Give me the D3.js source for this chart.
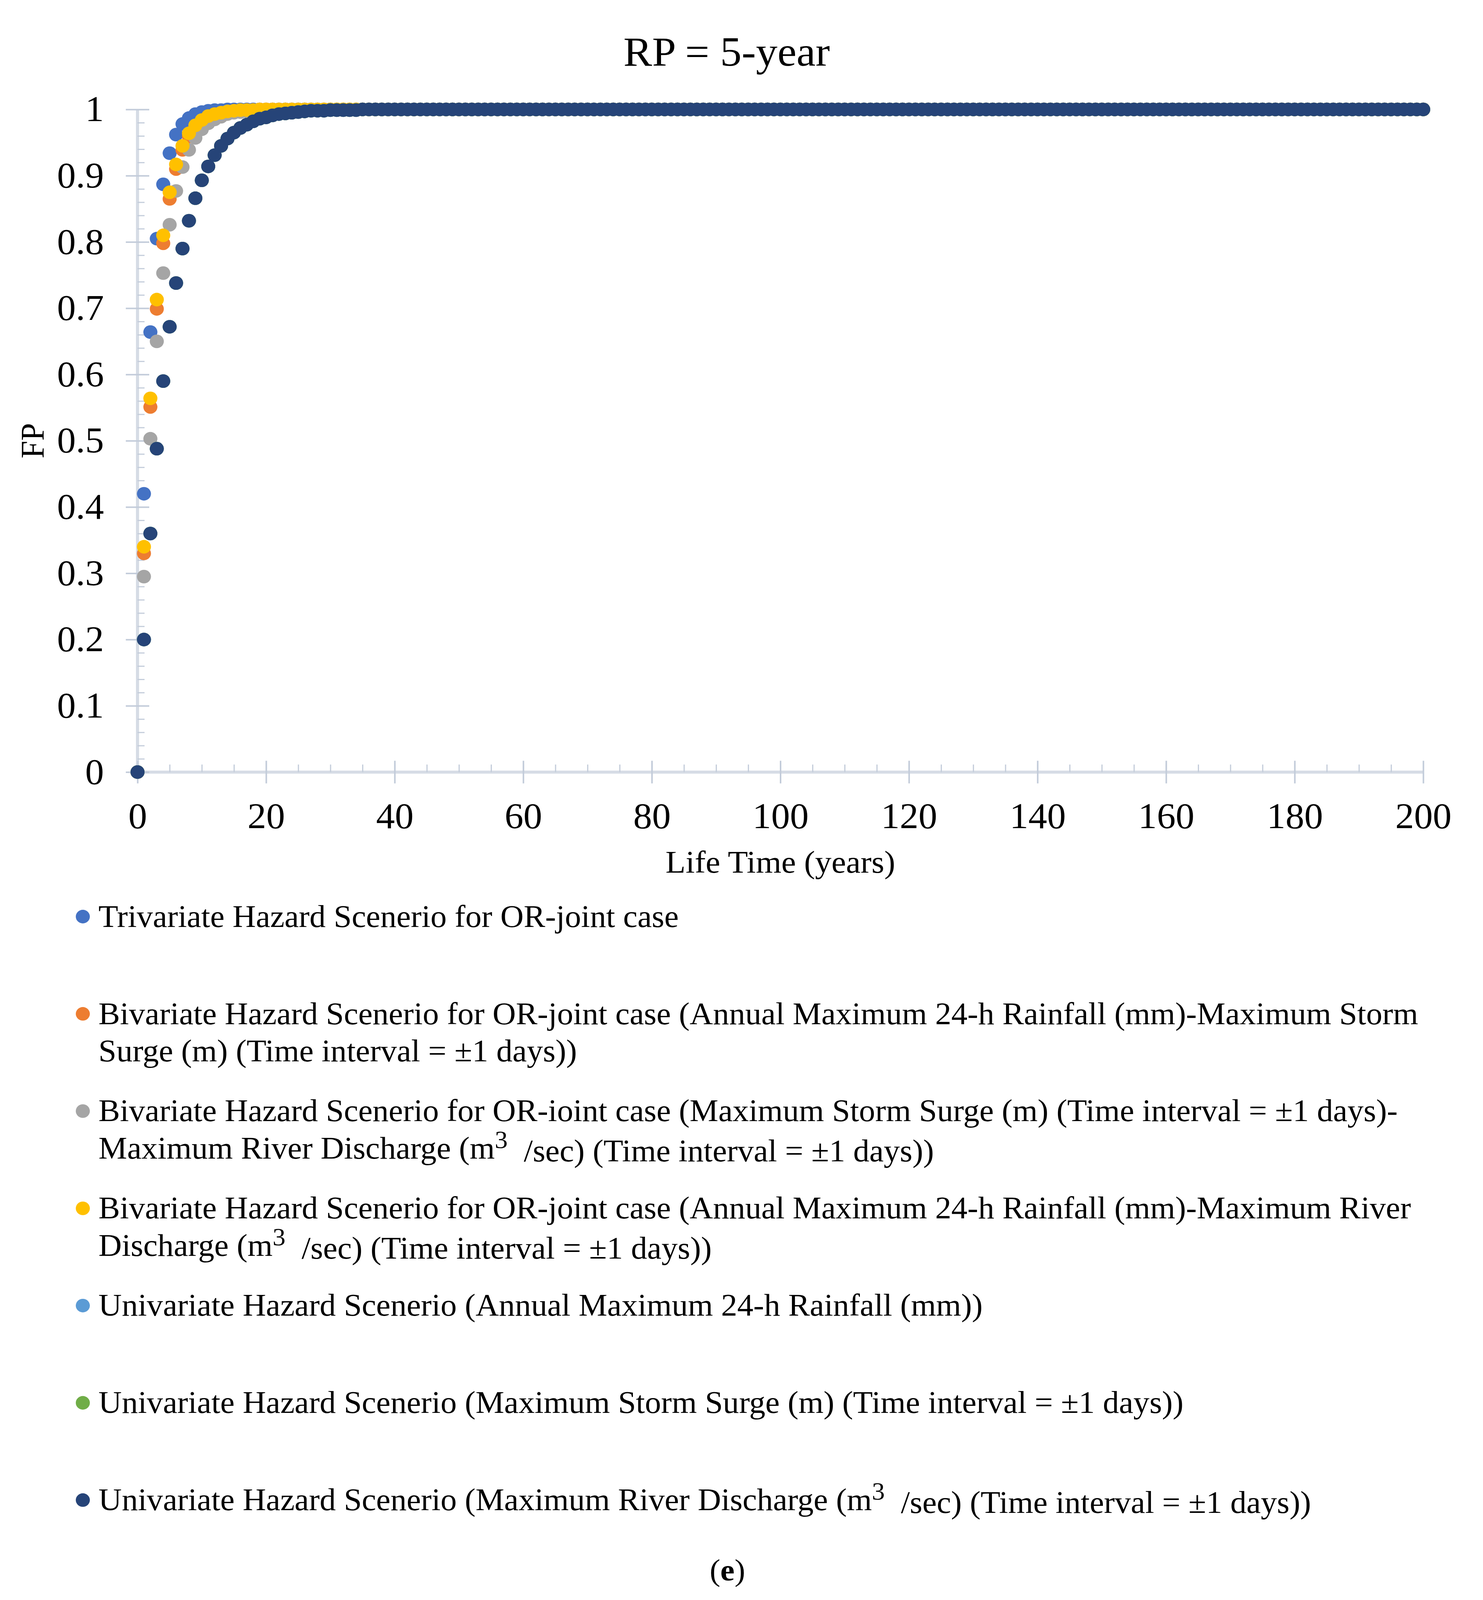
<!DOCTYPE html>
<html>
<head>
<meta charset="utf-8">
<script src="https://cdn.jsdelivr.net/npm/d3@7"></script>
<style>
  html, body { margin: 0; padding: 0; background: #fff; overflow: hidden; }
  svg { display: block; }
  text { font-family: "Liberation Serif", "Times New Roman", serif; fill: #000; }
</style>
</head>
<body>
<svg id="chart" width="3796" height="4240"></svg>
<script>
// Life time (years) on the x axis
var lifeTime = [
    0, 1, 2, 3, 4, 5, 6, 7, 8, 9, 10, 11, 12, 13, 14, 15, 16, 17, 18, 19,
    20, 21, 22, 23, 24, 25, 26, 27, 28, 29, 30, 31, 32, 33, 34, 35, 36, 37, 38, 39,
    40, 41, 42, 43, 44, 45, 46, 47, 48, 49, 50, 51, 52, 53, 54, 55, 56, 57, 58, 59,
    60, 61, 62, 63, 64, 65, 66, 67, 68, 69, 70, 71, 72, 73, 74, 75, 76, 77, 78, 79,
    80, 81, 82, 83, 84, 85, 86, 87, 88, 89, 90, 91, 92, 93, 94, 95, 96, 97, 98, 99,
    100, 101, 102, 103, 104, 105, 106, 107, 108, 109, 110, 111, 112, 113, 114, 115, 116, 117, 118, 119,
    120, 121, 122, 123, 124, 125, 126, 127, 128, 129, 130, 131, 132, 133, 134, 135, 136, 137, 138, 139,
    140, 141, 142, 143, 144, 145, 146, 147, 148, 149, 150, 151, 152, 153, 154, 155, 156, 157, 158, 159,
    160, 161, 162, 163, 164, 165, 166, 167, 168, 169, 170, 171, 172, 173, 174, 175, 176, 177, 178, 179,
    180, 181, 182, 183, 184, 185, 186, 187, 188, 189, 190, 191, 192, 193, 194, 195, 196, 197, 198, 199,
    200]

// FP values, one per life time
var trivariate = [
    0, 0.42, 0.664, 0.805, 0.887, 0.934, 0.962, 0.978, 0.987, 0.993, 0.996, 0.998, 0.999, 0.999, 1, 1, 1, 1, 1, 1,
    1, 1, 1, 1, 1, 1, 1, 1, 1, 1, 1, 1, 1, 1, 1, 1, 1, 1, 1, 1,
    1, 1, 1, 1, 1, 1, 1, 1, 1, 1, 1, 1, 1, 1, 1, 1, 1, 1, 1, 1,
    1, 1, 1, 1, 1, 1, 1, 1, 1, 1, 1, 1, 1, 1, 1, 1, 1, 1, 1, 1,
    1, 1, 1, 1, 1, 1, 1, 1, 1, 1, 1, 1, 1, 1, 1, 1, 1, 1, 1, 1,
    1, 1, 1, 1, 1, 1, 1, 1, 1, 1, 1, 1, 1, 1, 1, 1, 1, 1, 1, 1,
    1, 1, 1, 1, 1, 1, 1, 1, 1, 1, 1, 1, 1, 1, 1, 1, 1, 1, 1, 1,
    1, 1, 1, 1, 1, 1, 1, 1, 1, 1, 1, 1, 1, 1, 1, 1, 1, 1, 1, 1,
    1, 1, 1, 1, 1, 1, 1, 1, 1, 1, 1, 1, 1, 1, 1, 1, 1, 1, 1, 1,
    1, 1, 1, 1, 1, 1, 1, 1, 1, 1, 1, 1, 1, 1, 1, 1, 1, 1, 1, 1,
    1]

var bivRainSurge = [
    0, 0.33, 0.551, 0.699, 0.798, 0.865, 0.91, 0.939, 0.959, 0.973, 0.982, 0.988, 0.992, 0.995, 0.996, 0.998, 0.998, 0.999, 0.999, 1,
    1, 1, 1, 1, 1, 1, 1, 1, 1, 1, 1, 1, 1, 1, 1, 1, 1, 1, 1, 1,
    1, 1, 1, 1, 1, 1, 1, 1, 1, 1, 1, 1, 1, 1, 1, 1, 1, 1, 1, 1,
    1, 1, 1, 1, 1, 1, 1, 1, 1, 1, 1, 1, 1, 1, 1, 1, 1, 1, 1, 1,
    1, 1, 1, 1, 1, 1, 1, 1, 1, 1, 1, 1, 1, 1, 1, 1, 1, 1, 1, 1,
    1, 1, 1, 1, 1, 1, 1, 1, 1, 1, 1, 1, 1, 1, 1, 1, 1, 1, 1, 1,
    1, 1, 1, 1, 1, 1, 1, 1, 1, 1, 1, 1, 1, 1, 1, 1, 1, 1, 1, 1,
    1, 1, 1, 1, 1, 1, 1, 1, 1, 1, 1, 1, 1, 1, 1, 1, 1, 1, 1, 1,
    1, 1, 1, 1, 1, 1, 1, 1, 1, 1, 1, 1, 1, 1, 1, 1, 1, 1, 1, 1,
    1, 1, 1, 1, 1, 1, 1, 1, 1, 1, 1, 1, 1, 1, 1, 1, 1, 1, 1, 1,
    1]

var bivSurgeRiver = [
    0, 0.295, 0.503, 0.65, 0.753, 0.826, 0.877, 0.913, 0.939, 0.957, 0.97, 0.979, 0.985, 0.989, 0.993, 0.995, 0.996, 0.997, 0.998, 0.999,
    0.999, 0.999, 1, 1, 1, 1, 1, 1, 1, 1, 1, 1, 1, 1, 1, 1, 1, 1, 1, 1,
    1, 1, 1, 1, 1, 1, 1, 1, 1, 1, 1, 1, 1, 1, 1, 1, 1, 1, 1, 1,
    1, 1, 1, 1, 1, 1, 1, 1, 1, 1, 1, 1, 1, 1, 1, 1, 1, 1, 1, 1,
    1, 1, 1, 1, 1, 1, 1, 1, 1, 1, 1, 1, 1, 1, 1, 1, 1, 1, 1, 1,
    1, 1, 1, 1, 1, 1, 1, 1, 1, 1, 1, 1, 1, 1, 1, 1, 1, 1, 1, 1,
    1, 1, 1, 1, 1, 1, 1, 1, 1, 1, 1, 1, 1, 1, 1, 1, 1, 1, 1, 1,
    1, 1, 1, 1, 1, 1, 1, 1, 1, 1, 1, 1, 1, 1, 1, 1, 1, 1, 1, 1,
    1, 1, 1, 1, 1, 1, 1, 1, 1, 1, 1, 1, 1, 1, 1, 1, 1, 1, 1, 1,
    1, 1, 1, 1, 1, 1, 1, 1, 1, 1, 1, 1, 1, 1, 1, 1, 1, 1, 1, 1,
    1]

var bivRainRiver = [
    0, 0.34, 0.564, 0.713, 0.81, 0.875, 0.917, 0.945, 0.964, 0.976, 0.984, 0.99, 0.993, 0.995, 0.997, 0.998, 0.999, 0.999, 0.999, 1,
    1, 1, 1, 1, 1, 1, 1, 1, 1, 1, 1, 1, 1, 1, 1, 1, 1, 1, 1, 1,
    1, 1, 1, 1, 1, 1, 1, 1, 1, 1, 1, 1, 1, 1, 1, 1, 1, 1, 1, 1,
    1, 1, 1, 1, 1, 1, 1, 1, 1, 1, 1, 1, 1, 1, 1, 1, 1, 1, 1, 1,
    1, 1, 1, 1, 1, 1, 1, 1, 1, 1, 1, 1, 1, 1, 1, 1, 1, 1, 1, 1,
    1, 1, 1, 1, 1, 1, 1, 1, 1, 1, 1, 1, 1, 1, 1, 1, 1, 1, 1, 1,
    1, 1, 1, 1, 1, 1, 1, 1, 1, 1, 1, 1, 1, 1, 1, 1, 1, 1, 1, 1,
    1, 1, 1, 1, 1, 1, 1, 1, 1, 1, 1, 1, 1, 1, 1, 1, 1, 1, 1, 1,
    1, 1, 1, 1, 1, 1, 1, 1, 1, 1, 1, 1, 1, 1, 1, 1, 1, 1, 1, 1,
    1, 1, 1, 1, 1, 1, 1, 1, 1, 1, 1, 1, 1, 1, 1, 1, 1, 1, 1, 1,
    1]

// the three univariate scenarios lie on top of each other
var uniRain = [
    0, 0.2, 0.36, 0.488, 0.59, 0.672, 0.738, 0.79, 0.832, 0.866, 0.893, 0.914, 0.931, 0.945, 0.956, 0.965, 0.972, 0.977, 0.982, 0.986,
    0.988, 0.991, 0.993, 0.994, 0.995, 0.996, 0.997, 0.998, 0.998, 0.998, 0.999, 0.999, 0.999, 0.999, 0.999, 1, 1, 1, 1, 1,
    1, 1, 1, 1, 1, 1, 1, 1, 1, 1, 1, 1, 1, 1, 1, 1, 1, 1, 1, 1,
    1, 1, 1, 1, 1, 1, 1, 1, 1, 1, 1, 1, 1, 1, 1, 1, 1, 1, 1, 1,
    1, 1, 1, 1, 1, 1, 1, 1, 1, 1, 1, 1, 1, 1, 1, 1, 1, 1, 1, 1,
    1, 1, 1, 1, 1, 1, 1, 1, 1, 1, 1, 1, 1, 1, 1, 1, 1, 1, 1, 1,
    1, 1, 1, 1, 1, 1, 1, 1, 1, 1, 1, 1, 1, 1, 1, 1, 1, 1, 1, 1,
    1, 1, 1, 1, 1, 1, 1, 1, 1, 1, 1, 1, 1, 1, 1, 1, 1, 1, 1, 1,
    1, 1, 1, 1, 1, 1, 1, 1, 1, 1, 1, 1, 1, 1, 1, 1, 1, 1, 1, 1,
    1, 1, 1, 1, 1, 1, 1, 1, 1, 1, 1, 1, 1, 1, 1, 1, 1, 1, 1, 1,
    1]

var uniSurge = [
    0, 0.2, 0.36, 0.488, 0.59, 0.672, 0.738, 0.79, 0.832, 0.866, 0.893, 0.914, 0.931, 0.945, 0.956, 0.965, 0.972, 0.977, 0.982, 0.986,
    0.988, 0.991, 0.993, 0.994, 0.995, 0.996, 0.997, 0.998, 0.998, 0.998, 0.999, 0.999, 0.999, 0.999, 0.999, 1, 1, 1, 1, 1,
    1, 1, 1, 1, 1, 1, 1, 1, 1, 1, 1, 1, 1, 1, 1, 1, 1, 1, 1, 1,
    1, 1, 1, 1, 1, 1, 1, 1, 1, 1, 1, 1, 1, 1, 1, 1, 1, 1, 1, 1,
    1, 1, 1, 1, 1, 1, 1, 1, 1, 1, 1, 1, 1, 1, 1, 1, 1, 1, 1, 1,
    1, 1, 1, 1, 1, 1, 1, 1, 1, 1, 1, 1, 1, 1, 1, 1, 1, 1, 1, 1,
    1, 1, 1, 1, 1, 1, 1, 1, 1, 1, 1, 1, 1, 1, 1, 1, 1, 1, 1, 1,
    1, 1, 1, 1, 1, 1, 1, 1, 1, 1, 1, 1, 1, 1, 1, 1, 1, 1, 1, 1,
    1, 1, 1, 1, 1, 1, 1, 1, 1, 1, 1, 1, 1, 1, 1, 1, 1, 1, 1, 1,
    1, 1, 1, 1, 1, 1, 1, 1, 1, 1, 1, 1, 1, 1, 1, 1, 1, 1, 1, 1,
    1]

var uniRiver = [
    0, 0.2, 0.36, 0.488, 0.59, 0.672, 0.738, 0.79, 0.832, 0.866, 0.893, 0.914, 0.931, 0.945, 0.956, 0.965, 0.972, 0.977, 0.982, 0.986,
    0.988, 0.991, 0.993, 0.994, 0.995, 0.996, 0.997, 0.998, 0.998, 0.998, 0.999, 0.999, 0.999, 0.999, 0.999, 1, 1, 1, 1, 1,
    1, 1, 1, 1, 1, 1, 1, 1, 1, 1, 1, 1, 1, 1, 1, 1, 1, 1, 1, 1,
    1, 1, 1, 1, 1, 1, 1, 1, 1, 1, 1, 1, 1, 1, 1, 1, 1, 1, 1, 1,
    1, 1, 1, 1, 1, 1, 1, 1, 1, 1, 1, 1, 1, 1, 1, 1, 1, 1, 1, 1,
    1, 1, 1, 1, 1, 1, 1, 1, 1, 1, 1, 1, 1, 1, 1, 1, 1, 1, 1, 1,
    1, 1, 1, 1, 1, 1, 1, 1, 1, 1, 1, 1, 1, 1, 1, 1, 1, 1, 1, 1,
    1, 1, 1, 1, 1, 1, 1, 1, 1, 1, 1, 1, 1, 1, 1, 1, 1, 1, 1, 1,
    1, 1, 1, 1, 1, 1, 1, 1, 1, 1, 1, 1, 1, 1, 1, 1, 1, 1, 1, 1,
    1, 1, 1, 1, 1, 1, 1, 1, 1, 1, 1, 1, 1, 1, 1, 1, 1, 1, 1, 1,
    1]

// Legend labels, split where the original wraps; "^3" marks a superscript 3
var seriesLabels = [
    ["Trivariate Hazard Scenerio for OR-joint case"],
    ["Bivariate Hazard Scenerio for OR-joint case (Annual Maximum 24-h Rainfall (mm)-Maximum Storm",
     "Surge (m) (Time interval = \u00b11 days))"],
    ["Bivariate Hazard Scenerio for OR-ioint case (Maximum Storm Surge (m) (Time interval = \u00b11 days)-",
     "Maximum River Discharge (m^3  /sec) (Time interval = \u00b11 days))"],
    ["Bivariate Hazard Scenerio for OR-joint case (Annual Maximum 24-h Rainfall (mm)-Maximum River",
     "Discharge (m^3  /sec) (Time interval = \u00b11 days))"],
    ["Univariate Hazard Scenerio (Annual Maximum 24-h Rainfall (mm))"],
    ["Univariate Hazard Scenerio (Maximum Storm Surge (m) (Time interval = \u00b11 days))"],
    ["Univariate Hazard Scenerio (Maximum River Discharge (m^3  /sec) (Time interval = \u00b11 days))"]
]
var seriesColors = ["#4472c4", "#ed7d31", "#a5a5a5", "#ffc000", "#5b9bd5", "#70ad47", "#264478"]
var seriesValues = [trivariate, bivRainSurge, bivSurgeRiver, bivRainRiver, uniRain, uniSurge, uniRiver]

var xTicks = [0, 20, 40, 60, 80, 100, 120, 140, 160, 180, 200]
var yTicks = [0, 0.1, 0.2, 0.3, 0.4, 0.5, 0.6, 0.7, 0.8, 0.9, 1]
var yTickLabels = ["0", "0.1", "0.2", "0.3", "0.4", "0.5", "0.6", "0.7", "0.8", "0.9", "1"]

var W = 3796, H = 4240
var axisColor = "#d6dce5"
var tickColor = "#c3ccda"
var dotR = 18

// the drawing is laid out on a 3796 x 4240 grid; the visible area can be
// shorter than that, so squeeze it to fit and keep the caption in view
var viewH = Math.min(window.innerHeight || H, H)
var svg = d3.select("#chart")
    .attr("width", W)
    .attr("height", viewH)
    .attr("viewBox", "0 0 " + W + " " + H)
    .attr("preserveAspectRatio", "none")

var x = d3.scaleLinear()
    .domain([0, 200])
    .range([352, 3643])

var y = d3.scaleLinear()
    .domain([0, 1])
    .range([2046, 290])

// axis lines
svg.append("line")
    .attr("x1", x(0)).attr("x2", x(0))
    .attr("y1", y(0)).attr("y2", y(1))
    .attr("stroke", axisColor).attr("stroke-width", 8)
svg.append("line")
    .attr("x1", x(0)).attr("x2", x(200))
    .attr("y1", y(0)).attr("y2", y(0))
    .attr("stroke", axisColor).attr("stroke-width", 8)

function styleAxis(g, width) {
    g.select(".domain").remove()
    g.selectAll(".tick line").attr("stroke", tickColor).attr("stroke-width", width)
    g.selectAll(".tick text")
        .attr("font-family", null)
        .attr("font-size", 96)
        .attr("fill", "#000")
}

// y axis: major ticks cross the axis, minor ticks point inward
var gy = svg.append("g").attr("transform", "translate(" + x(0) + ",0)")
gy.append("g")
    .call(d3.axisLeft(y).tickValues(yTicks).tickFormat(function (d, i) { return yTickLabels[i] }).tickSize(30).tickPadding(56))
    .call(styleAxis, 4)
gy.append("g")
    .call(d3.axisRight(y).tickValues(yTicks).tickFormat("").tickSize(30))
    .call(styleAxis, 4)
gy.append("g")
    .call(d3.axisRight(y).tickValues(y.ticks(50)).tickFormat("").tickSize(18))
    .call(styleAxis, 3)

// x axis
var gx = svg.append("g").attr("transform", "translate(0," + y(0) + ")")
gx.append("g")
    .call(d3.axisBottom(x).tickValues(xTicks).tickFormat(d3.format("d")).tickSize(30).tickPadding(50))
    .call(styleAxis, 4)
gx.append("g")
    .call(d3.axisTop(x).tickValues(xTicks).tickFormat("").tickSize(30))
    .call(styleAxis, 4)
gx.append("g")
    .call(d3.axisTop(x).tickValues(x.ticks(50)).tickFormat("").tickSize(20))
    .call(styleAxis, 3)

// points, series drawn in order so later ones sit on top
seriesValues.forEach(function (vals, s) {
    svg.append("g")
        .attr("class", "series")
        .selectAll("circle")
        .data(lifeTime.map(function (t, i) { return [t, vals[i]] }))
        .enter()
        .append("circle")
        .attr("cx", function (d) { return x(d[0]) })
        .attr("cy", function (d) { return y(d[1]) })
        .attr("r", dotR)
        .attr("fill", seriesColors[s])
})

// titles
svg.append("text")
    .attr("x", 1860).attr("y", 174)
    .attr("text-anchor", "middle")
    .attr("font-size", 110)
    .text("RP = 5-year")

svg.append("text")
    .attr("transform", "translate(83,1168) rotate(-90)")
    .attr("text-anchor", "middle")
    .attr("dy", "0.35em")
    .attr("font-size", 84)
    .text("FP")

svg.append("text")
    .attr("x", (x(0) + x(200)) / 2).attr("y", 2313)
    .attr("text-anchor", "middle")
    .attr("font-size", 84)
    .text("Life Time (years)")

// legend
var legendTop = 2456
var legendStep = 257.7
var lineStep = 99

function addLine(textSel, str) {
    var parts = str.split("^3")
    textSel.append("tspan").text(parts[0])
    if (parts.length > 1) {
        textSel.append("tspan").attr("font-size", 66).attr("dy", "-0.42em").text("3")
        textSel.append("tspan").attr("dy", "0.42em").text(parts[1])
    }
}

var legend = svg.append("g").attr("class", "legend")
seriesLabels.forEach(function (lines, s) {
    var base = legendTop + s * legendStep
    legend.append("circle")
        .attr("cx", 212).attr("cy", base - 27)
        .attr("r", dotR)
        .attr("fill", seriesColors[s])
    lines.forEach(function (ln, j) {
        var t = legend.append("text")
            .attr("x", 252).attr("y", base + j * lineStep)
            .attr("font-size", 82.6)
            .style("white-space", "pre")
        addLine(t, ln)
    })
})

// panel label
var cap = svg.append("text")
    .attr("x", 1862).attr("y", 4188)
    .attr("text-anchor", "middle")
    .attr("font-size", 82)
cap.append("tspan").text("(")
cap.append("tspan").attr("font-weight", "bold").text("e")
cap.append("tspan").text(")")
</script>
</body>
</html>
